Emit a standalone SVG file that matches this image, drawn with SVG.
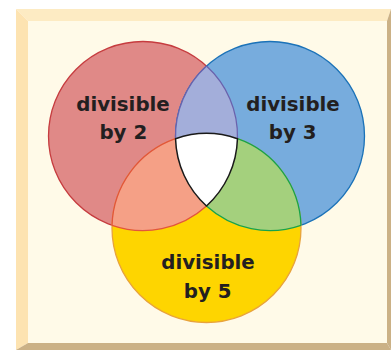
<svg xmlns="http://www.w3.org/2000/svg" width="391" height="350" viewBox="0 0 391 350">
<style>
.lbl{font-family:"DejaVu Sans","Liberation Sans",Arial,sans-serif;font-weight:bold;font-size:19.8px;fill:#231f20;text-anchor:middle}
.arc{fill:none;stroke-width:1.3}
</style>
<defs>
<clipPath id="cRed"><circle cx="143" cy="136" r="94.5"/></clipPath>
<clipPath id="cBlue"><circle cx="270" cy="136" r="94.5"/></clipPath>
</defs>
<g id="frame">
<rect x="28" y="21" width="359" height="322" fill="#fffae8"/>
<polygon points="16,9 391,9 387,21 28,21" fill="#fdebc3"/>
<polygon points="16,9 28,21 28,343 16,350" fill="#fde3b1"/>
<polygon points="16,350 28,343 387,343 391,350" fill="#cbb186"/>
<polygon points="391,9 391,350 387,343 387,21" fill="#cbb186"/>
</g>
<g id="set-2">
<circle cx="143" cy="136" r="94.5" fill="#e08987" stroke="#c63c3f" stroke-width="1.3"/>
</g>
<g id="set-3">
<circle cx="270" cy="136" r="94.5" fill="#77acdd" stroke="#1b72b8" stroke-width="1.3"/>
</g>
<g id="set-5">
<circle cx="206.5" cy="228" r="94.5" fill="#fed500" stroke="#e8a33c" stroke-width="1.3"/>
</g>
<g id="overlaps">
<circle cx="270" cy="136" r="94.5" fill="#a3aeda" clip-path="url(#cRed)"/>
<circle cx="206.5" cy="228" r="94.5" fill="#f5a086" clip-path="url(#cRed)"/>
<circle cx="206.5" cy="228" r="94.5" fill="#a4d07d" clip-path="url(#cBlue)"/>
</g>
<g id="connectors">
<path class="arc" stroke="#6a62ad" d="M206.5,66 A94.5,94.5 0 0 0 175.54,138.72 M206.5,66 A94.5,94.5 0 0 1 237.46,138.72"/>
<path class="arc" stroke="#e2553c" d="M112.04,225.28 A94.5,94.5 0 0 1 175.54,138.72 M112.04,225.28 A94.5,94.5 0 0 0 206.5,206"/>
<path class="arc" stroke="#17a34c" d="M237.46,138.72 A94.5,94.5 0 0 1 300.96,225.28 M206.5,206 A94.5,94.5 0 0 0 300.96,225.28"/>
</g>
<g id="all-three">
<path d="M175.54,138.72 A94.5,94.5 0 0 1 237.46,138.72 A94.5,94.5 0 0 1 206.5,206 A94.5,94.5 0 0 1 175.54,138.72 Z" fill="#ffffff" stroke="#1a1a1a" stroke-width="1.5" stroke-linejoin="round"/>
</g>
<g id="labels">
<text class="lbl" x="123" y="111">divisible</text>
<text class="lbl" x="123.3" y="138.5">by 2</text>
<text class="lbl" x="293" y="111">divisible</text>
<text class="lbl" x="292.7" y="138.7">by 3</text>
<text class="lbl" x="208" y="269.3">divisible</text>
<text class="lbl" x="207.7" y="298.3">by 5</text>
</g>
</svg>
